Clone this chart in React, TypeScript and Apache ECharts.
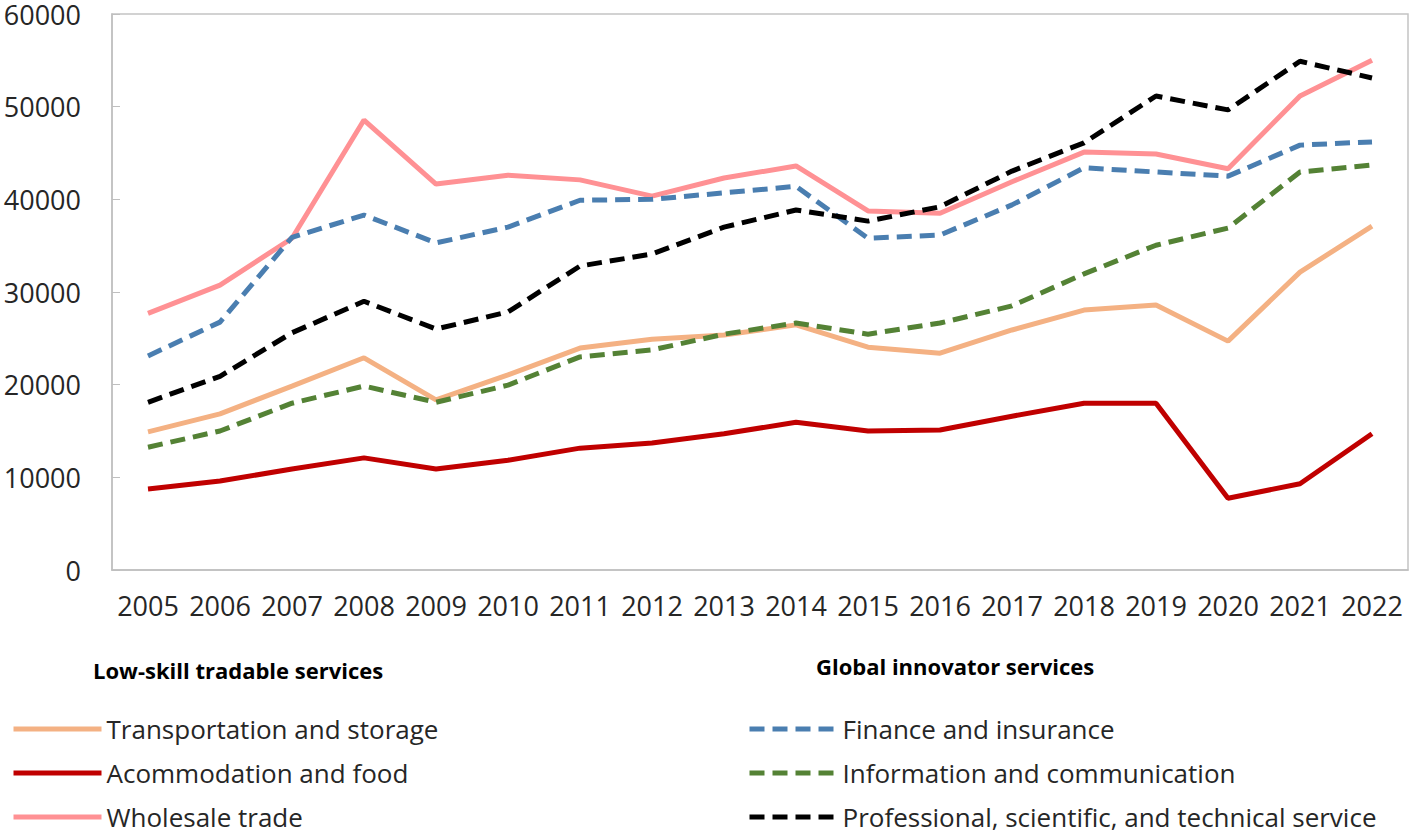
import React, { useEffect, useRef } from "react";
import * as echarts from "echarts";

const years = ["2005","2006","2007","2008","2009","2010","2011","2012","2013","2014","2015","2016","2017","2018","2019","2020","2021","2022"];

const transportation = [14900,16850,19850,22900,18350,21050,23950,24900,25350,26450,24050,23400,25900,28050,28600,24700,32150,37100];
const accommodation = [8750,9600,10900,12100,10900,11850,13150,13700,14700,15950,15000,15100,16600,18000,18000,7750,9300,14700];
const wholesale = [27700,30750,35800,48560,41650,42600,42100,40350,42300,43600,38750,38500,41900,45100,44900,43300,51150,55000];
const finance = [23100,26750,35900,38300,35300,37000,39900,40000,40700,41400,35800,36150,39400,43400,42950,42500,45850,46200];
const information = [13250,15000,18000,19850,18100,19950,23000,23750,25450,26650,25450,26650,28500,31950,35050,36900,42950,43700];
const professional = [18100,20900,25600,29000,26000,27850,32800,34100,37000,38850,37650,39200,43050,46100,51150,49650,54900,53100];

const yTicks = [0, 10000, 20000, 30000, 40000, 50000, 60000];

const lowSkillNames = ["Transportation and storage", "Acommodation and food", "Wholesale trade"];
const innovatorNames = ["Finance and insurance", "Information and communication", "Professional, scientific, and technical service"];
const groupTitles = ["Low-skill tradable services", "Global innovator services"];

const FONT = "Open Sans";

export default function App() {
  const ref = useRef<HTMLDivElement>(null);
  useEffect(() => {
    if (!ref.current) return;
    const chart = echarts.init(ref.current, null, { renderer: "svg" });
    const dash = [15, 8];
    const mk = (name: string, data: number[], color: string, dashed: boolean) => ({
      name,
      type: "line",
      data,
      symbol: "none",
      showSymbol: false,
      lineStyle: { color, width: 5, type: dashed ? dash : "solid" },
      itemStyle: { color },
    });
    const legendText = { fontFamily: FONT, fontSize: 26, lineHeight: 26, color: "#262626" };
    const legendBase = {
      orient: "vertical",
      top: 716,
      height: 118,
      padding: 0,
      itemWidth: 88,
      itemHeight: 20,
      itemGap: 18,
      selectedMode: false,
      textStyle: legendText,
      itemStyle: { opacity: 0 },
      lineStyle: { width: 5 },
    };
    const titleStyle = { fontFamily: FONT, fontSize: 22, fontWeight: "bold", color: "#000" };
    chart.setOption({
      animation: false,
      textStyle: { fontFamily: FONT },
      title: [
        { text: groupTitles[0], left: 93, top: 659, padding: 0, textStyle: titleStyle },
        { text: groupTitles[1], left: 816, top: 655, padding: 0, textStyle: titleStyle },
      ],
      grid: { left: 112, right: 4, top: 14, bottom: 266, outerBoundsMode: "none", containLabel: false, show: true, borderColor: "#c4c4c4", borderWidth: 1.5 },
      legend: [
        { ...legendBase, data: lowSkillNames, left: 11 },
        { ...legendBase, data: innovatorNames, left: 747 },
      ],
      xAxis: {
        type: "category",
        data: years,
        boundaryGap: true,
        axisLine: { lineStyle: { color: "#bfbfbf", width: 1.5 } },
        axisTick: { inside: true, length: 10, lineStyle: { color: "#bfbfbf" } },
        axisLabel: { fontFamily: FONT, fontSize: 27, color: "#262626", margin: 22, interval: 0 },
        splitLine: { show: false },
      },
      yAxis: {
        type: "value",
        min: yTicks[0],
        max: yTicks[yTicks.length - 1],
        interval: 10000,
        axisLine: { show: true, lineStyle: { color: "#bfbfbf", width: 1.5 } },
        axisTick: { show: true, inside: true, length: 8, lineStyle: { color: "#bfbfbf" } },
        axisLabel: { fontFamily: FONT, fontSize: 27, lineHeight: 27, color: "#262626", margin: 31, formatter: (v: number) => String(v) },
        splitLine: { show: false },
      },
      series: [
        mk(lowSkillNames[0], transportation, "#F4B183", false),
        mk(lowSkillNames[1], accommodation, "#C00000", false),
        mk(lowSkillNames[2], wholesale, "#FF9194", false),
        mk(innovatorNames[0], finance, "#4A7EB0", true),
        mk(innovatorNames[1], information, "#548235", true),
        mk(innovatorNames[2], professional, "#000000", true),
      ],
    });
    return () => chart.dispose();
  }, []);
  return (
    <div
      ref={ref}
      style={{ position: "absolute", left: 0, top: 0, width: 1412, height: 836, background: "#fff" }}
    />
  );
}
